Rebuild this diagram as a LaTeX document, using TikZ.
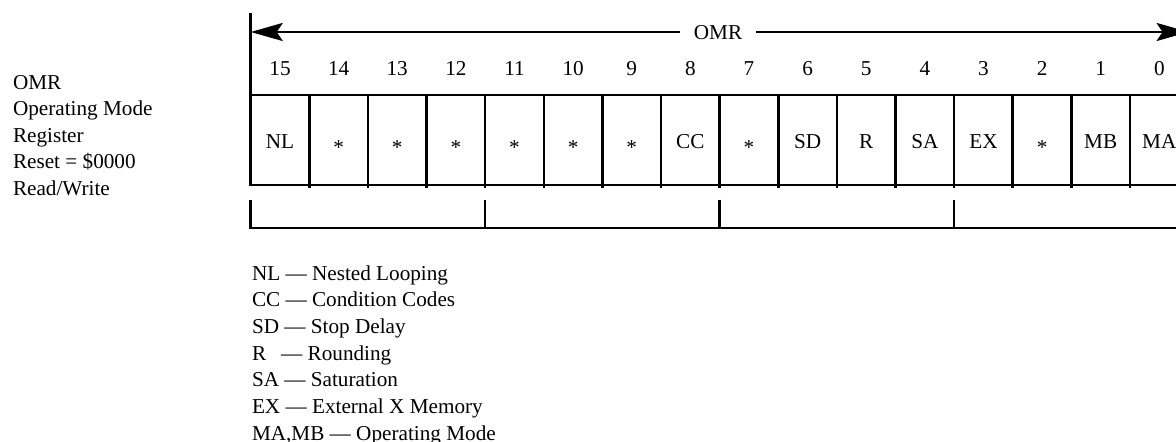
\documentclass[tikz,border=0pt]{standalone}
\usepackage{fontspec}
\setmainfont{Liberation Serif}
\usetikzlibrary{arrows.meta}
\begin{document}
\begin{tikzpicture}[x=0.5pt,y=-0.5pt,line width=1.3pt,
  every node/.style={font=\fontsize{10.6}{12.7}\selectfont,inner sep=0pt},
  lbl/.style={anchor=base},
  txt/.style={anchor=base west},
  arr/.style={-{Stealth[length=16pt,width=9pt,inset=3pt]}}]
\useasboundingbox (0,0) rectangle (1176,442);
\clip (0,0) rectangle (1176,442);
% title arrow
\coordinate (aL) at (250.7,32);
\coordinate (aR) at (1188.6,32);
\node[lbl,inner xsep=6.5pt] (omr) at (718,40) {OMR};
\draw[arr] (omr.west |- aL) -- (aL);
\draw[arr] (omr.east |- aR) -- (aR);
% register frame
\draw (250.7,13.3) -- (250.7,185) -- (1188.6,185) -- (1188.6,13.3);
\draw (250.7,95) -- (1188.6,95);
\foreach \i in {1,...,15} \draw ({250.7+58.62*\i},95) -- ({250.7+58.62*\i},188);
% bit numbers
\foreach \b in {0,...,15} \node[lbl] (b\b) at ({280+58.62*(15-\b)},76) {\b};
% cell labels
\foreach \t/\y [count=\i from 0] in {NL/148.7,{*}/155,{*}/155,{*}/155,{*}/155,{*}/155,{*}/155,CC/148.7,{*}/155,SD/148.7,R/148.7,SA/148.7,EX/148.7,{*}/155,MB/148.7,MA/148.7}
  \node[lbl] (c\i) at ({280+58.62*\i},\y) {\t};
% group box
\draw (250.7,200) -- (250.7,228) -- (1188.6,228) -- (1188.6,200);
\foreach \i in {4,8,12} \draw ({250.7+58.62*\i},200) -- ({250.7+58.62*\i},228);
% left description
\foreach \t [count=\k from 0] in {OMR,Operating Mode,Register,Reset = \$0000,Read/Write}
  \node[txt] (d\k) at (11.7,{89.5+26.4*\k}) {\t};
% legend
\foreach \t [count=\k from 0] in {NL — Nested Looping,CC — Condition Codes,SD — Stop Delay,\makebox[14.6pt][l]{R}— Rounding,SA — Saturation,EX — External X Memory,{MA,MB — Operating Mode}}
  \node[txt] (l\k) at (250.7,{280.3+26.67*\k}) {\t};
\end{tikzpicture}
\end{document}
